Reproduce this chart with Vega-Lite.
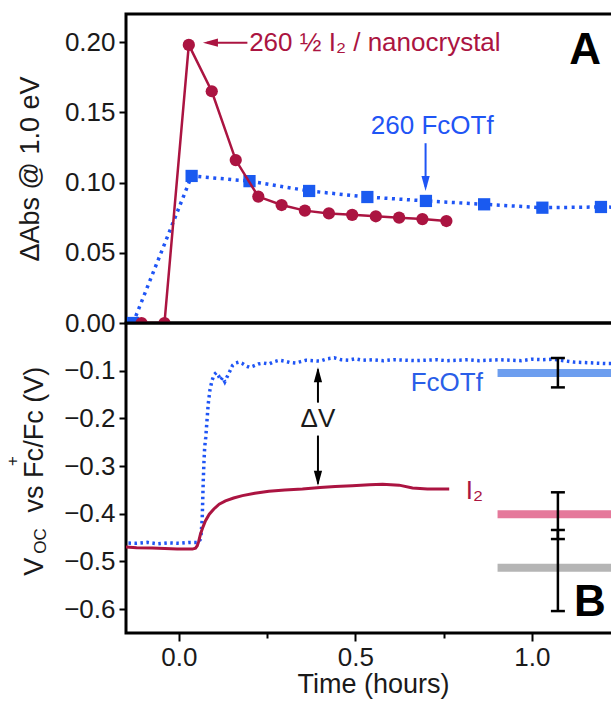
{
  "$schema": "https://vega.github.io/schema/vega-lite/v6.json",
  "padding": {"left": 2, "top": 12, "right": 0, "bottom": 0},
  "spacing": 0,
  "bounds": "flush",
  "config": {
    "font": "Liberation Sans",
    "view": {"stroke": "black", "strokeWidth": 3},
    "axis": {"grid": false, "domain": false, "tickColor": "black", "tickWidth": 2, "labelFont": "Liberation Sans", "labelFontSize": 26, "labelColor": "#1a1a1a", "titleFont": "Liberation Sans", "titleFontSize": 27, "titleFontWeight": "normal", "titleColor": "#1a1a1a", "labelOverlap": false}
  },
  "resolve": {"scale": {"x": "independent", "y": "independent"}},
  "vconcat": [
    {
      "width": 494,
      "height": 309,
      "encoding": {
        "x": {"field": "t", "type": "quantitative", "scale": {"domain": [-0.15, 1.25], "nice": false, "zero": false}, "axis": null},
        "y": {"field": "v", "type": "quantitative", "scale": {"domain": [0, 0.22], "nice": false, "zero": false},
              "axis": {"values": [0, 0.05, 0.1, 0.15, 0.2], "format": ".2f", "title": "ΔAbs @ 1.0 eV", "tickSize": 7, "labelPadding": 4, "titlePadding": 20}}
      },
      "layer": [
        {
          "data": {"values": [
            {"t": -0.13, "v": 0}, {"t": 0.036, "v": 0.1047}, {"t": 0.2, "v": 0.101}, {"t": 0.369, "v": 0.094},
            {"t": 0.534, "v": 0.0897}, {"t": 0.7, "v": 0.0869}, {"t": 0.865, "v": 0.0845}, {"t": 1.03, "v": 0.0821},
            {"t": 1.196, "v": 0.0826}, {"t": 1.36, "v": 0.082}
          ]},
          "layer": [
            {"mark": {"type": "line", "color": "#1f55f5", "strokeWidth": 3.5, "strokeDash": [3, 4.5], "clip": true}},
            {"mark": {"type": "point", "shape": "square", "filled": true, "color": "#1a5af0", "size": 150, "opacity": 1, "clip": true}}
          ]
        },
        {
          "data": {"values": [
            {"t": -0.106, "v": 0}, {"t": -0.041, "v": 0}, {"t": 0.028, "v": 0.198}, {"t": 0.093, "v": 0.165},
            {"t": 0.161, "v": 0.116}, {"t": 0.225, "v": 0.09}, {"t": 0.291, "v": 0.084}, {"t": 0.357, "v": 0.08},
            {"t": 0.425, "v": 0.078}, {"t": 0.491, "v": 0.077}, {"t": 0.558, "v": 0.076}, {"t": 0.624, "v": 0.075},
            {"t": 0.69, "v": 0.074}, {"t": 0.758, "v": 0.0726}
          ]},
          "layer": [
            {"mark": {"type": "line", "color": "#ab1441", "strokeWidth": 2.5, "clip": true}},
            {"mark": {"type": "point", "shape": "circle", "filled": true, "color": "#ab1441", "size": 150, "opacity": 1, "clip": true}}
          ]
        },
        {
          "data": {"values": [{"t": 0.194, "t2": 0.08, "v": 0.1996}]},
          "mark": {"type": "rule", "color": "#ab1441", "strokeWidth": 2},
          "encoding": {"x2": {"field": "t2"}}
        },
        {
          "data": {"values": [{"t": 0.068, "v": 0.1996}]},
          "mark": {"type": "point", "shape": "M2,-0.55L0,0L2,0.55Z", "filled": true, "color": "#ab1441", "size": 225, "opacity": 1}
        },
        {
          "data": {"values": [{"t": 0.699, "v": 0.128, "v2": 0.097}]},
          "mark": {"type": "rule", "color": "#1f55f5", "strokeWidth": 2},
          "encoding": {"y2": {"field": "v2"}}
        },
        {
          "data": {"values": [{"t": 0.699, "v": 0.094}]},
          "mark": {"type": "point", "shape": "M-0.55,-2L0,0L0.55,-2Z", "filled": true, "color": "#1f55f5", "size": 225, "opacity": 1}
        },
        {
          "data": {"values": [{"t": 0.199, "v": 0.194, "label": "260 ½ I₂ / nanocrystal"}]},
          "mark": {"type": "text", "align": "left", "baseline": "alphabetic", "fontSize": 26, "color": "#ab1441"},
          "encoding": {"text": {"field": "label"}}
        },
        {
          "data": {"values": [{"t": 0.718, "v": 0.1344, "label": "260 FcOTf"}]},
          "mark": {"type": "text", "align": "center", "baseline": "alphabetic", "fontSize": 26, "color": "#1f55f5"},
          "encoding": {"text": {"field": "label"}}
        },
        {
          "data": {"values": [{"t": 1.151, "v": 0.1843, "label": "A"}]},
          "mark": {"type": "text", "align": "center", "baseline": "alphabetic", "fontSize": 44, "fontWeight": "bold", "color": "black"},
          "encoding": {"text": {"field": "label"}}
        }
      ]
    },
    {
      "width": 494,
      "height": 310,
      "encoding": {
        "x": {"field": "t", "type": "quantitative", "scale": {"domain": [-0.15, 1.25], "nice": false, "zero": false},
              "axis": {"values": [0, 0.25, 0.5, 0.75, 1, 1.25], "title": "Time (hours)",
                       "labelExpr": "(datum.value == 0 || datum.value == 0.5 || datum.value == 1) ? format(datum.value, '.1f') : ''",
                       "tickSize": {"condition": {"test": "datum.value == 0 || datum.value == 0.5 || datum.value == 1", "value": 8}, "value": 5},
                       "labelPadding": 3, "titlePadding": 1}},
        "y": {"field": "v", "type": "quantitative", "scale": {"domain": [-0.65, 0], "nice": false, "zero": false},
              "axis": {"values": [-0.1, -0.2, -0.3, -0.4, -0.5, -0.6], "format": ".1f", "title": null, "tickSize": 7, "labelPadding": 4}}
      },
      "layer": [
        {
          "data": {"values": [
            {"t": 0.903, "t2": 1.4, "v": -0.1047, "ref": "FcOTf"},
            {"t": 0.903, "t2": 1.4, "v": -0.401, "ref": "I2"},
            {"t": 0.903, "t2": 1.4, "v": -0.513, "ref": "base"}
          ]},
          "mark": {"type": "rule", "strokeWidth": 8, "clip": true},
          "encoding": {
            "x2": {"field": "t2"},
            "color": {"field": "ref", "type": "nominal", "scale": {"domain": ["FcOTf", "I2", "base"], "range": ["#6d9eef", "#e5799b", "#b5b5b5"]}, "legend": null}
          }
        },
        {
          "data": {"values": [
            {"t": -0.16, "v": -0.461}, {"t": -0.12, "v": -0.462}, {"t": -0.09, "v": -0.46}, {"t": -0.06, "v": -0.463},
            {"t": -0.03, "v": -0.461}, {"t": 0.0, "v": -0.462}, {"t": 0.03, "v": -0.46}, {"t": 0.055, "v": -0.46},
            {"t": 0.062, "v": -0.452}, {"t": 0.066, "v": -0.41}, {"t": 0.069, "v": -0.33}, {"t": 0.071, "v": -0.29},
            {"t": 0.073, "v": -0.26}, {"t": 0.076, "v": -0.24}, {"t": 0.079, "v": -0.21}, {"t": 0.083, "v": -0.17},
            {"t": 0.088, "v": -0.14}, {"t": 0.094, "v": -0.12}, {"t": 0.1, "v": -0.108}, {"t": 0.106, "v": -0.104},
            {"t": 0.112, "v": -0.11}, {"t": 0.118, "v": -0.12}, {"t": 0.124, "v": -0.114}, {"t": 0.13, "v": -0.123},
            {"t": 0.137, "v": -0.112}, {"t": 0.145, "v": -0.1}, {"t": 0.152, "v": -0.089}, {"t": 0.16, "v": -0.084},
            {"t": 0.17, "v": -0.082}, {"t": 0.18, "v": -0.085}, {"t": 0.19, "v": -0.09}, {"t": 0.2, "v": -0.093},
            {"t": 0.212, "v": -0.09}, {"t": 0.225, "v": -0.086}, {"t": 0.24, "v": -0.084}, {"t": 0.255, "v": -0.086},
            {"t": 0.27, "v": -0.081}, {"t": 0.285, "v": -0.078}, {"t": 0.3, "v": -0.08}, {"t": 0.315, "v": -0.083},
            {"t": 0.33, "v": -0.084}, {"t": 0.345, "v": -0.081}, {"t": 0.36, "v": -0.078}, {"t": 0.38, "v": -0.079},
            {"t": 0.4, "v": -0.08}, {"t": 0.42, "v": -0.075}, {"t": 0.44, "v": -0.073}, {"t": 0.46, "v": -0.077},
            {"t": 0.48, "v": -0.078}, {"t": 0.5, "v": -0.075}, {"t": 0.52, "v": -0.078}, {"t": 0.55, "v": -0.077},
            {"t": 0.58, "v": -0.079}, {"t": 0.61, "v": -0.077}, {"t": 0.64, "v": -0.078}, {"t": 0.67, "v": -0.079},
            {"t": 0.7, "v": -0.078}, {"t": 0.73, "v": -0.077}, {"t": 0.76, "v": -0.079}, {"t": 0.79, "v": -0.078},
            {"t": 0.82, "v": -0.077}, {"t": 0.85, "v": -0.079}, {"t": 0.88, "v": -0.078}, {"t": 0.91, "v": -0.077},
            {"t": 0.94, "v": -0.078}, {"t": 0.97, "v": -0.079}, {"t": 1.0, "v": -0.076}, {"t": 1.03, "v": -0.077},
            {"t": 1.06, "v": -0.076}, {"t": 1.09, "v": -0.079}, {"t": 1.12, "v": -0.082}, {"t": 1.15, "v": -0.083},
            {"t": 1.18, "v": -0.084}, {"t": 1.21, "v": -0.085}, {"t": 1.24, "v": -0.085}, {"t": 1.26, "v": -0.086}
          ]},
          "mark": {"type": "line", "color": "#1f55f5", "strokeWidth": 3.5, "strokeDash": [2.5, 3.5], "clip": true}
        },
        {
          "data": {"values": [
            {"t": -0.16, "v": -0.469}, {"t": -0.12, "v": -0.471}, {"t": -0.076, "v": -0.472}, {"t": -0.04, "v": -0.473},
            {"t": -0.005, "v": -0.474}, {"t": 0.038, "v": -0.474}, {"t": 0.047, "v": -0.472}, {"t": 0.052, "v": -0.467},
            {"t": 0.056, "v": -0.458}, {"t": 0.061, "v": -0.443}, {"t": 0.068, "v": -0.428}, {"t": 0.075, "v": -0.415},
            {"t": 0.086, "v": -0.401}, {"t": 0.099, "v": -0.39}, {"t": 0.114, "v": -0.38}, {"t": 0.132, "v": -0.373},
            {"t": 0.155, "v": -0.367}, {"t": 0.18, "v": -0.362}, {"t": 0.215, "v": -0.357}, {"t": 0.255, "v": -0.353},
            {"t": 0.3, "v": -0.35}, {"t": 0.35, "v": -0.348}, {"t": 0.4, "v": -0.345}, {"t": 0.443, "v": -0.343},
            {"t": 0.491, "v": -0.341}, {"t": 0.54, "v": -0.339}, {"t": 0.577, "v": -0.338}, {"t": 0.624, "v": -0.34},
            {"t": 0.662, "v": -0.346}, {"t": 0.704, "v": -0.348}, {"t": 0.766, "v": -0.348}
          ]},
          "mark": {"type": "line", "color": "#ab1441", "strokeWidth": 3, "clip": true}
        },
        {
          "data": {"values": [
            {"t": 1.074, "v": -0.0734, "v2": -0.135},
            {"t": 1.074, "v": -0.355, "v2": -0.453},
            {"t": 1.074, "v": -0.434, "v2": -0.604}
          ]},
          "mark": {"type": "rule", "color": "black", "strokeWidth": 2.5},
          "encoding": {"y2": {"field": "v2"}}
        },
        {
          "data": {"values": [
            {"t": 1.074, "v": -0.0734}, {"t": 1.074, "v": -0.135}, {"t": 1.074, "v": -0.355},
            {"t": 1.074, "v": -0.453}, {"t": 1.074, "v": -0.434}, {"t": 1.074, "v": -0.604}
          ]},
          "mark": {"type": "tick", "orient": "horizontal", "color": "black", "size": 14, "thickness": 2.5, "opacity": 1}
        },
        {
          "data": {"values": [
            {"t": 0.394, "v": -0.167, "v2": -0.097},
            {"t": 0.394, "v": -0.236, "v2": -0.337}
          ]},
          "mark": {"type": "rule", "color": "black", "strokeWidth": 2},
          "encoding": {"y2": {"field": "v2"}}
        },
        {
          "data": {"values": [{"t": 0.394, "v": -0.093}]},
          "mark": {"type": "point", "shape": "M-0.55,2L0,0L0.55,2Z", "filled": true, "color": "black", "size": 225, "opacity": 1}
        },
        {
          "data": {"values": [{"t": 0.394, "v": -0.341}]},
          "mark": {"type": "point", "shape": "M-0.55,-2L0,0L0.55,-2Z", "filled": true, "color": "black", "size": 225, "opacity": 1}
        },
        {
          "data": {"values": [{"t": 0.394, "v": -0.219, "label": "ΔV"}]},
          "mark": {"type": "text", "align": "center", "baseline": "alphabetic", "fontSize": 26, "color": "#1a1a1a"},
          "encoding": {"text": {"field": "label"}}
        },
        {
          "data": {"values": [{"t": 0.759, "v": -0.142, "label": "FcOTf"}]},
          "mark": {"type": "text", "align": "center", "baseline": "alphabetic", "fontSize": 26, "color": "#2a5ee8"},
          "encoding": {"text": {"field": "label"}}
        },
        {
          "data": {"values": [{"t": 0.8127, "v": -0.369, "label": "I₂"}]},
          "mark": {"type": "text", "align": "left", "baseline": "alphabetic", "fontSize": 26, "color": "#ab1441"},
          "encoding": {"text": {"field": "label"}}
        },
        {
          "data": {"values": [{"t": 1.165, "v": -0.614, "label": "B"}]},
          "mark": {"type": "text", "align": "center", "baseline": "alphabetic", "fontSize": 44, "fontWeight": "bold", "color": "black"},
          "encoding": {"text": {"field": "label"}}
        },
        {
          "data": {"values": [
            {"t": -0.3852, "v": -0.5302, "label": "V"},
            {"t": -0.3852, "v": -0.3974, "label": "vs Fc"},
            {"t": -0.3852, "v": -0.2616, "label": "/Fc (V)"}
          ]},
          "mark": {"type": "text", "align": "left", "baseline": "alphabetic", "angle": 270, "fontSize": 27, "color": "#1a1a1a"},
          "encoding": {"text": {"field": "label"}}
        },
        {
          "data": {"values": [{"t": -0.3852, "v": -0.484, "label": "OC"}]},
          "mark": {"type": "text", "align": "left", "baseline": "alphabetic", "angle": 270, "fontSize": 17, "dy": 3, "color": "#1a1a1a"},
          "encoding": {"text": {"field": "label"}}
        },
        {
          "data": {"values": [{"t": -0.3852, "v": -0.2895, "label": "+"}]},
          "mark": {"type": "text", "align": "center", "baseline": "middle", "angle": 270, "fontSize": 17, "dy": -30, "color": "#1a1a1a"},
          "encoding": {"text": {"field": "label"}}
        }
      ]
    }
  ]
}
